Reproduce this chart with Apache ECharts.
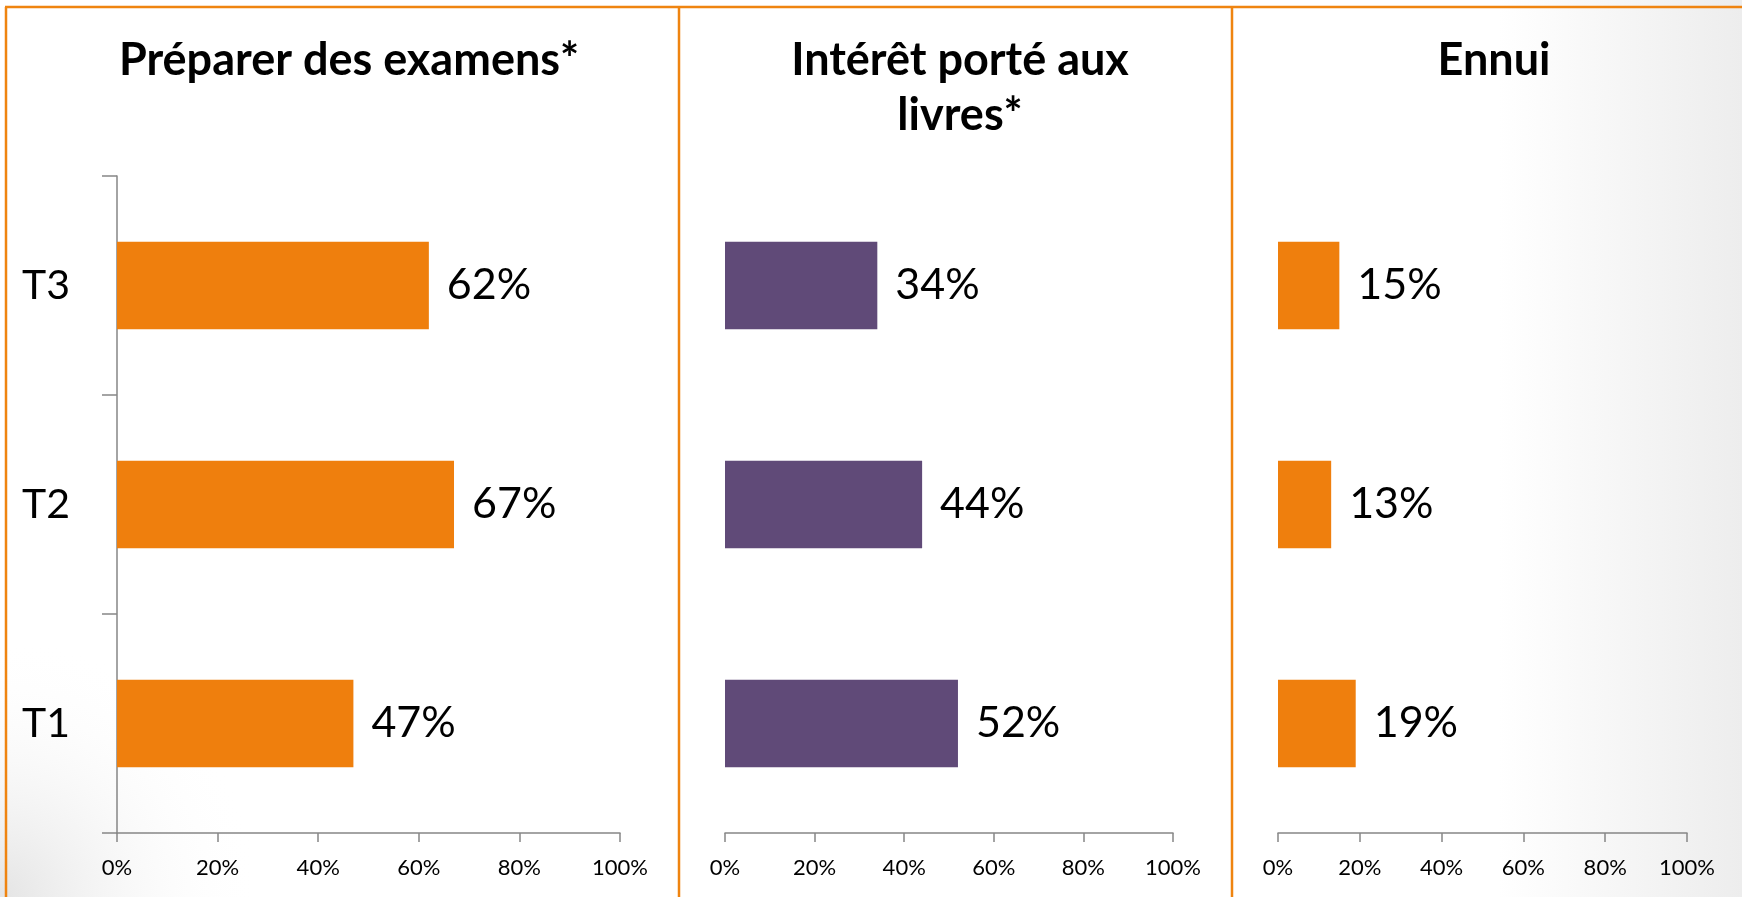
<!DOCTYPE html>
<html>
<head>
<meta charset="utf-8">
<script src="https://cdn.jsdelivr.net/npm/echarts@6/dist/echarts.min.js"></script>
<style>
  html, body { margin: 0; padding: 0; background: #fff; }
  #main { width: 1742px; height: 897px; }
</style>
</head>
<body>
<div id="main"></div>
<script>
var categories = ['T1', 'T2', 'T3'];
var titles = ['Préparer des examens*', 'Intérêt porté aux\nlivres*', 'Ennui'];
var examens = [47, 67, 62];
var livres = [52, 44, 34];
var ennui = [19, 13, 15];
var tickValues = [0, 20, 40, 60, 80, 100];

var ORANGE = '#EF7F0D';
var PURPLE = '#604A78';
var AXIS = '#868686';
var FONT = 'Lato';

function build() {
    var myChart = echarts.init(document.getElementById('main'));

    // une grille par panneau
    var grids = [
        { left: 117, right: 1122, top: 176, bottom: 64 },
        { left: 725, right: 569, top: 176, bottom: 64 },
        { left: 1278, right: 55, top: 176, bottom: 64 }
    ];
    var titleX = [344, 955, 1489];
    var allData = [examens, livres, ennui];
    var colors = [ORANGE, PURPLE, ORANGE];

    var xAxes = [], yAxes = [], series = [], titleList = [];
    for (var i = 0; i < 3; i++) {
        titleList.push({
            text: titles[i],
            left: titleX[i],
            top: 28,
            textAlign: 'center',
            textStyle: { fontFamily: FONT, fontWeight: 'bold', fontSize: 45, lineHeight: 55, color: '#000' }
        });
        xAxes.push({
            type: 'value',
            gridIndex: i,
            min: tickValues[0],
            max: tickValues[tickValues.length - 1],
            interval: 20,
            splitLine: { show: false },
            axisLine: { show: true, lineStyle: { color: AXIS, width: 1.5 } },
            axisTick: { show: true, length: 9, lineStyle: { color: AXIS, width: 1.5 } },
            axisLabel: { formatter: '{value}%', fontFamily: FONT, fontSize: 22, color: '#000', margin: 24 }
        });
        yAxes.push({
            type: 'category',
            gridIndex: i,
            data: categories,
            axisLine: { show: i === 0, lineStyle: { color: AXIS, width: 1.5 } },
            axisTick: { show: i === 0, length: 15, lineStyle: { color: AXIS, width: 1.5 } },
            axisLabel: { show: i === 0, fontFamily: FONT, fontSize: 41, color: '#000', margin: 47 }
        });
        series.push({
            type: 'bar',
            xAxisIndex: i,
            yAxisIndex: i,
            data: allData[i],
            barWidth: '40%',
            itemStyle: { color: colors[i] },
            label: {
                show: true,
                position: 'right',
                distance: 18,
                formatter: '{c}%',
                fontFamily: FONT,
                fontSize: 43,
                color: '#000'
            }
        });
    }

    var border = { stroke: '#EF8410', lineWidth: 2.5 };
    var option = {
        backgroundColor: {
            type: 'linear', x: 0, y: 0, x2: 1, y2: 0,
            colorStops: [
                { offset: 0, color: '#ffffff' },
                { offset: 0.86, color: '#ffffff' },
                { offset: 1, color: '#ededed' }
            ]
        },
        animation: false,
        title: titleList,
        grid: grids,
        xAxis: xAxes,
        yAxis: yAxes,
        series: series,
        graphic: [
            {
                type: 'rect', z: -10, silent: true,
                shape: { x: 0, y: 620, width: 260, height: 277 },
                style: {
                    fill: {
                        type: 'radial', x: 0, y: 1, r: 1,
                        colorStops: [
                            { offset: 0, color: 'rgba(225,225,225,0.9)' },
                            { offset: 1, color: 'rgba(255,255,255,0)' }
                        ]
                    }
                }
            },
            { type: 'line', shape: { x1: 5, y1: 7, x2: 1742, y2: 7 }, style: border, silent: true },
            { type: 'line', shape: { x1: 6, y1: 7, x2: 6, y2: 897 }, style: border, silent: true },
            { type: 'line', shape: { x1: 679, y1: 7, x2: 679, y2: 897 }, style: border, silent: true },
            { type: 'line', shape: { x1: 1232, y1: 7, x2: 1232, y2: 897 }, style: border, silent: true }
        ]
    };

    myChart.setOption(option);
}

build();
</script>
</body>
</html>
